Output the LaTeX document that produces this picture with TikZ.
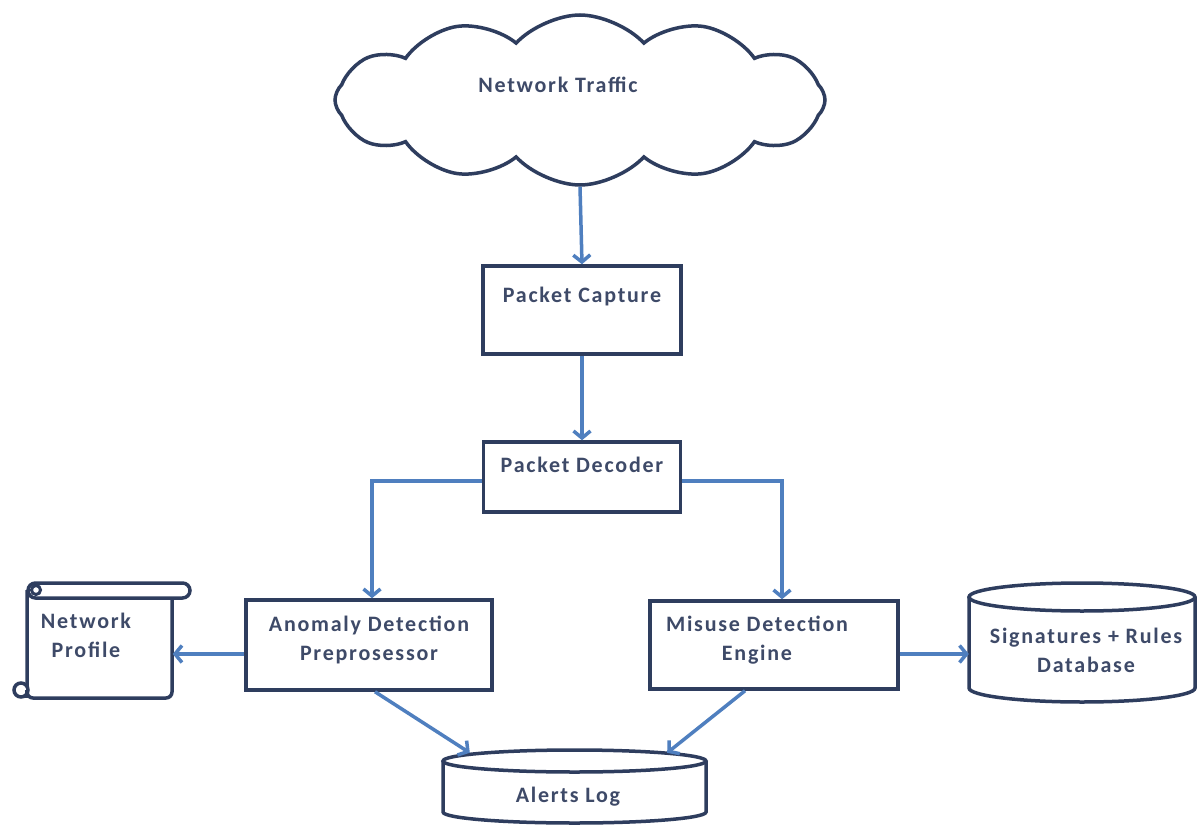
\documentclass[tikz,border=0pt]{standalone}
\usepackage{fontspec}
\setmainfont{Carlito}[LetterSpace=8]
\usetikzlibrary{shapes.symbols,arrows.meta}
\definecolor{edgec}{HTML}{2E3D5E}
\definecolor{flowc}{HTML}{4F7FBF}
\definecolor{inkc}{HTML}{3E4A68}
\tikzset{
  outline/.style={draw=edgec,line width=3.5pt,fill=white},
  box/.style={outline,rectangle,inner sep=0pt},
  region/.style={rectangle,inner sep=0pt},
  lbl/.style={text=inkc,font=\bfseries\fontsize{22}{29}\selectfont,align=center,inner sep=0pt},
  flowarrow/.style={draw=flowc,line width=3.5pt,-{Straight Barb[length=7pt,width=17pt]}},
}
\begin{document}
\begin{tikzpicture}[x=1pt,y=1pt]
\path[fill=white] (0,0) rectangle (1198,-826);
\useasboundingbox (0,0) rectangle (1198,-826);

% cloud
\node[outline,cloud,cloud puffs=12,cloud puff arc=95,aspect=2.8,minimum width=490pt,minimum height=170pt] (cloud) at (580,-100) {};
\node[lbl] (cloudtxt) at (558,-85) {Network Traffic};

% boxes
\node[box,minimum width=198pt,minimum height=88pt] (capture) at (582,-310) {};
\node[lbl] (capturetxt) at (582,-297) {Packet Capture};

\node[box,minimum width=197pt,minimum height=70pt] (decoder) at (582,-477) {};
\node[lbl] (decodertxt) at (582,-465) {Packet Decoder};

\node[box,minimum width=246pt,minimum height=90pt] (anomaly) at (369,-645) {};
\node[lbl] (anomalytxt) at (369,-640) {Anomaly Detection\\Preprosessor};

\node[box,minimum width=248pt,minimum height=88pt] (misuse) at (774,-645) {};
\node[lbl] (misusetxt) at (757,-640) {Misuse Detection\\Engine};

% network profile scroll
\node[region,minimum width=145pt,minimum height=108pt] (profile) at (100,-644) {};
\draw[outline,rounded corners=6pt] (172,-598) -- (172,-698) -- (27,-698) -- (27,-590);
\draw[outline,rounded corners=7.5pt] (28,-583) rectangle (190,-598);
\draw[draw=edgec,line width=3pt] (36,-590) circle (4.5pt);
\draw[outline] (21,-690) circle (7pt);
\draw[draw=edgec,line width=3.5pt] (27,-690) -- (27,-698);
\node[lbl] (profiletxt) at (86,-635) {Network\\Profile};

% database cylinder
\node[region,minimum width=228pt,minimum height=120pt] (db) at (1083,-642) {};
\draw[outline] (969,-597) -- (969,-688) arc[start angle=180,end angle=360,x radius=113,y radius=14] -- (1195,-597);
\draw[outline] (1082,-597) ellipse [x radius=113,y radius=14];
\node[lbl] (dbtxt) at (1086,-650) {Signatures + Rules\\Database};

% alerts log cylinder
\node[region,minimum width=263pt,minimum height=76pt] (alerts) at (574.5,-788) {};
\draw[outline] (443,-761) -- (443,-812) arc[start angle=180,end angle=360,x radius=131.5,y radius=11] -- (706,-761);
\draw[outline] (574.5,-761) ellipse [x radius=131.5,y radius=11];
\node[lbl] (alertstxt) at (568,-797) {Alerts Log};

% connectors
\draw[flowarrow] (cloud.south) -- (capture.north);
\draw[flowarrow] (capture.south) -- (decoder.north);
\draw[flowarrow] ([yshift=-4pt]decoder.west) -| ([xshift=3pt]anomaly.north);
\draw[flowarrow] ([yshift=-4pt]decoder.east) -| ([xshift=8pt]misuse.north);
\draw[flowarrow] ([yshift=-9pt]anomaly.west) -- ([yshift=-9pt]anomaly.west -| profile.east);
\draw[flowarrow] ([yshift=-9pt]misuse.east) -- ([yshift=-9pt]misuse.east -| db.west);
\draw[flowarrow] ([xshift=6pt]anomaly.south) -- ([xshift=27pt,yshift=-3pt]alerts.north west);
\draw[flowarrow] ([xshift=-29pt]misuse.south) -- ([xshift=-39pt,yshift=-3pt]alerts.north east);
\end{tikzpicture}
\end{document}
